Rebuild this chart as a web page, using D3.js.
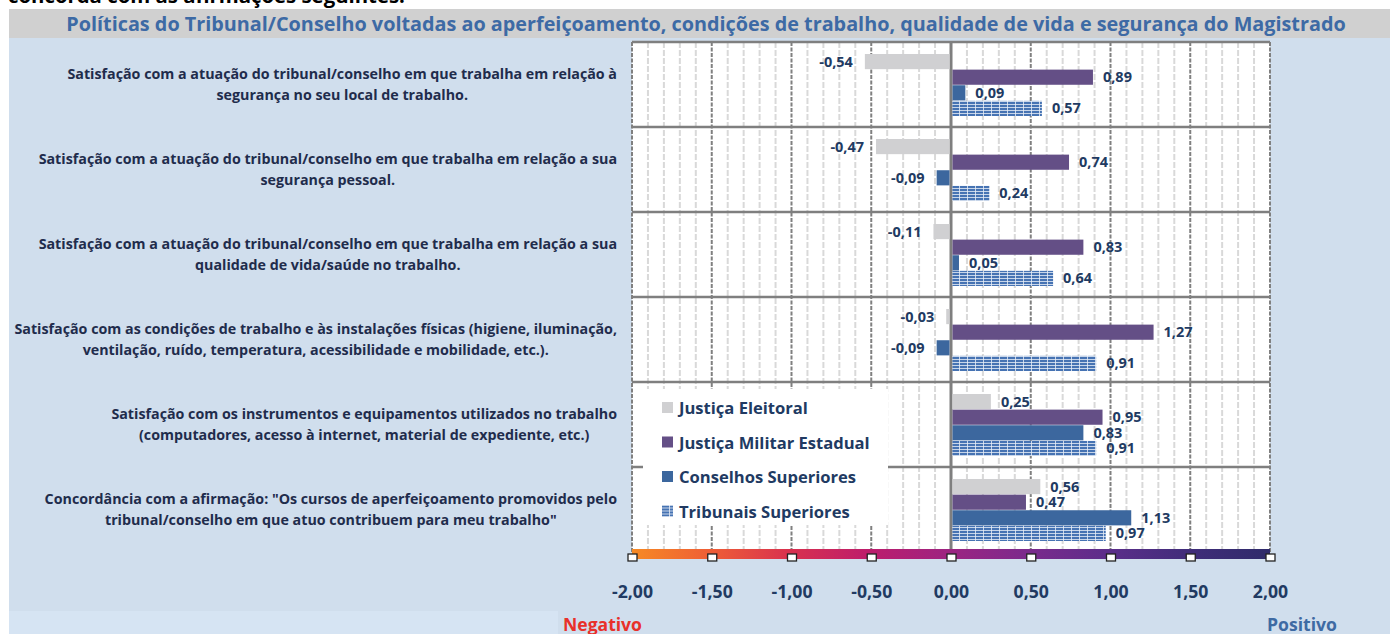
<!DOCTYPE html>
<html>
<head>
<meta charset="utf-8">
<script src="https://cdn.jsdelivr.net/npm/d3@7"></script>
<style>
  html, body { margin: 0; padding: 0; background: #ffffff; }
  svg { display: block; }
  text { font-family: "Open Sans", "Noto Sans", sans-serif; font-weight: bold; }
</style>
</head>
<body>
<svg id="chart" width="1390" height="634"></svg>
<script>
// ---- data ----
const categories = [
  ["Satisfação com a atuação do tribunal/conselho em que trabalha em relação à", "segurança no seu local de trabalho."],
  ["Satisfação com a atuação do tribunal/conselho em que trabalha em relação a sua", "segurança pessoal."],
  ["Satisfação com a atuação do tribunal/conselho em que trabalha em relação a sua", "qualidade de vida/saúde no trabalho."],
  ["Satisfação com as condições de trabalho e às instalações físicas (higiene, iluminação,", "ventilação, ruído, temperatura, acessibilidade e mobilidade, etc.)."],
  ["Satisfação com os instrumentos e equipamentos utilizados no trabalho", "(computadores, acesso à internet, material de expediente, etc.)"],
  ["Concordância com a afirmação: \"Os cursos de aperfeiçoamento promovidos pelo", "tribunal/conselho em que atuo contribuem para meu trabalho\""]
];
const seriesNames = ["Justiça Eleitoral", "Justiça Militar Estadual", "Conselhos Superiores", "Tribunais Superiores"];
const justicaEleitoral = [-0.54, -0.47, -0.11, -0.03, 0.25, 0.56];
const justicaMilitarEstadual = [0.89, 0.74, 0.83, 1.27, 0.95, 0.47];
const conselhosSuperiores = [0.09, -0.09, 0.05, -0.09, 0.83, 1.13];
const tribunaisSuperiores = [0.57, 0.24, 0.64, 0.91, 0.91, 0.97];
const tickValues = [-2, -1.5, -1, -0.5, 0, 0.5, 1, 1.5, 2];
const chartTitle = "Políticas do Tribunal/Conselho voltadas ao aperfeiçoamento, condições de trabalho, qualidade de vida e segurança do Magistrado";
const headingText = "concorda com as afirmações seguintes:";

const seriesValues = [justicaEleitoral, justicaMilitarEstadual, conselhosSuperiores, tribunaisSuperiores];
// decimal comma, plain hyphen for negatives
const fmt = v => d3.format(".2f")(v).replace("\u2212", "-").replace(".", ",");

// ---- layout ----
const svg = d3.select("#chart");
const W = 1390, H = 634;
const plot = { left: 632, right: 1270, top: 42, bottom: 552 };

// font size that makes a string span the given width
function fitSize(str, width, base = 20) {
  const t = svg.append("text").attr("font-size", base).text(str);
  const w = t.node().getComputedTextLength();
  t.remove();
  return base * width / w;
}

const x = d3.scaleLinear().domain([-2, 2]).range([plot.left, plot.right]);
const y0 = d3.scaleBand().domain(d3.range(categories.length)).range([plot.top, plot.bottom]).padding(0);
const y1 = d3.scaleBand().domain(d3.range(seriesNames.length)).range([12, 74]).paddingInner(0.03);

const navy = "#213a62";
const colors = ["#d0d0d2", "#644f86", "#3c679e", "url(#stripes)"];

// ---- defs ----
const defs = svg.append("defs");
const pat = defs.append("pattern").attr("id", "stripes").attr("patternUnits", "userSpaceOnUse")
  .attr("width", 8).attr("height", 3);
pat.append("rect").attr("width", 8).attr("height", 3).attr("fill", "#e8eef7");
pat.append("rect").attr("width", 7.2).attr("height", 2.2).attr("fill", "#4673b3");

const grad = defs.append("linearGradient").attr("id", "scaleGrad").attr("x1", "0%").attr("x2", "100%");
[["0%", "#f68a24"], ["12%", "#ef5f36"], ["25%", "#d8304f"], ["37%", "#bd1d6c"], ["50%", "#9c2482"],
 ["62%", "#7b2a8c"], ["75%", "#5b2e8a"], ["88%", "#3f2d79"], ["100%", "#2f2b6a"]]
  .forEach(([o, c]) => grad.append("stop").attr("offset", o).attr("stop-color", c));

// ---- backgrounds ----
svg.append("rect").attr("x", 0).attr("y", 0).attr("width", W).attr("height", H).attr("fill", "#ffffff");
svg.append("text").attr("x", 8).attr("y", 3).attr("font-size", fitSize(headingText, 397)).attr("fill", "#000")
  .text(headingText);
svg.append("rect").attr("x", 9).attr("y", 9).attr("width", W - 9).attr("height", 29).attr("fill", "#d0d0d0");
svg.append("rect").attr("x", 9).attr("y", 38).attr("width", W - 9).attr("height", H - 38).attr("fill", "#d0deed");
svg.append("rect").attr("x", 9).attr("y", 611).attr("width", 549).attr("height", H - 611).attr("fill", "#d6e4f3");

svg.append("text").attr("x", 706).attr("y", 31).attr("text-anchor", "middle")
  .attr("font-size", fitSize(chartTitle, 1280)).attr("fill", "#3d6aa5").text(chartTitle);

// ---- plot area ----
svg.append("rect").attr("x", plot.left).attr("y", plot.top)
  .attr("width", plot.right - plot.left).attr("height", plot.bottom - plot.top).attr("fill", "#ffffff");

// minor vertical gridlines every 0.1
const minor = d3.range(-20, 21).map(d => d / 10).filter(v => Math.abs(v * 2 - Math.round(v * 2)) > 1e-6);
svg.append("g").selectAll("line").data(minor).join("line")
  .attr("x1", d => x(d)).attr("x2", d => x(d)).attr("y1", plot.top).attr("y2", plot.bottom)
  .attr("stroke", "#d9d9d9").attr("stroke-width", 2).attr("stroke-dasharray", "6,2");

// major vertical gridlines every 0.5
svg.append("g").selectAll("line").data(tickValues.filter(v => v !== 0)).join("line")
  .attr("x1", d => x(d)).attr("x2", d => x(d)).attr("y1", plot.top).attr("y2", plot.bottom)
  .attr("stroke", "#808080").attr("stroke-width", 2).attr("stroke-dasharray", "4,1.5");

// category separators
svg.append("g").selectAll("line").data(d3.range(categories.length + 1)).join("line")
  .attr("x1", plot.left).attr("x2", plot.right)
  .attr("y1", d => plot.top + d * y0.bandwidth()).attr("y2", d => plot.top + d * y0.bandwidth())
  .attr("stroke", "#7f7f7f").attr("stroke-width", 2.5);

// ---- legend box (covers gridlines) ----
const legend = svg.append("g");
legend.append("rect").attr("x", 643).attr("y", 389).attr("width", 245).attr("height", 136).attr("fill", "#ffffff");

// zero line
svg.append("line").attr("x1", x(0)).attr("x2", x(0)).attr("y1", plot.top).attr("y2", 557)
  .attr("stroke", "#7f7f7f").attr("stroke-width", 3);

// ---- bars ----
const rows = [];
categories.forEach((c, ci) => seriesValues.forEach((vals, si) => rows.push({ ci, si, v: vals[ci] })));

const valueSize = fitSize("0,89", 29);
const gBars = svg.append("g");
gBars.selectAll("rect").data(rows).join("rect")
  .attr("x", d => x(Math.min(0, d.v)) + (d.v >= 0 ? 1.5 : 0))
  .attr("y", d => y0(d.ci) + y1(d.si))
  .attr("width", d => Math.abs(x(d.v) - x(0)) - 1.5)
  .attr("height", y1.bandwidth())
  .attr("fill", d => colors[d.si]);

gBars.selectAll("text").data(rows).join("text")
  .attr("x", d => d.v >= 0 ? x(d.v) + 10 : x(d.v) - 12)
  .attr("y", d => y0(d.ci) + y1(d.si) + y1.bandwidth() / 2 + 5)
  .attr("text-anchor", d => d.v >= 0 ? "start" : "end")
  .attr("font-size", valueSize).attr("fill", navy)
  .text(d => fmt(d.v));

// ---- legend entries ----
const legendSize = fitSize(seriesNames[0], 129);
const legRows = legend.selectAll("g.item").data(seriesNames).join("g").attr("class", "item")
  .attr("transform", (d, i) => `translate(662, ${408 + i * 34.5})`);
legRows.append("rect").attr("x", 0).attr("y", -6).attr("width", 11).attr("height", 11)
  .attr("fill", (d, i) => colors[i]);
legRows.append("text").attr("x", 17).attr("y", 6).attr("font-size", legendSize).attr("fill", navy).text(d => d);

// ---- category labels ----
const catSize = fitSize(categories[0][0], 550);
const gCat = svg.append("g");
categories.forEach((lines, ci) => {
  const g = gCat.append("g");
  const texts = g.selectAll("text").data(lines).join("text")
    .attr("y", (d, i) => y0(ci) + y0.bandwidth() / 2 + (i - 0.5) * 21 + 5)
    .attr("text-anchor", "middle").attr("font-size", catSize).attr("fill", "#1f2c4c")
    .text(d => d);
  const maxW = d3.max(texts.nodes(), n => n.getComputedTextLength());
  texts.attr("x", 617 - maxW / 2);
});

// ---- colour scale axis ----
svg.append("rect").attr("x", plot.left).attr("y", 549).attr("width", plot.right - plot.left).attr("height", 10)
  .attr("fill", "url(#scaleGrad)");

const tickSize = fitSize("-2,00", 41);
const axis = d3.axisBottom(x).tickValues(tickValues).tickSize(0).tickPadding(0).tickFormat(fmt);
const gAxis = svg.append("g").attr("transform", "translate(0,557)").call(axis);
gAxis.select(".domain").remove();
gAxis.selectAll(".tick").append("rect").attr("x", -4.5).attr("y", -3).attr("width", 9).attr("height", 7)
  .attr("fill", "#ffffff").attr("stroke", "#222").attr("stroke-width", 1.3);
gAxis.selectAll(".tick text").attr("y", 28).attr("font-size", tickSize).attr("fill", navy)
  .style("font-family", "'Open Sans', sans-serif").style("font-weight", "bold");

// ---- direction labels ----
svg.append("text").attr("x", 563).attr("y", 631).attr("font-size", fitSize("Negativo", 79)).attr("fill", "#e8302a").text("Negativo");
svg.append("text").attr("x", 1267).attr("y", 631).attr("font-size", fitSize("Positivo", 70)).attr("fill", "#3e6aa3").text("Positivo");
</script>
</body>
</html>
